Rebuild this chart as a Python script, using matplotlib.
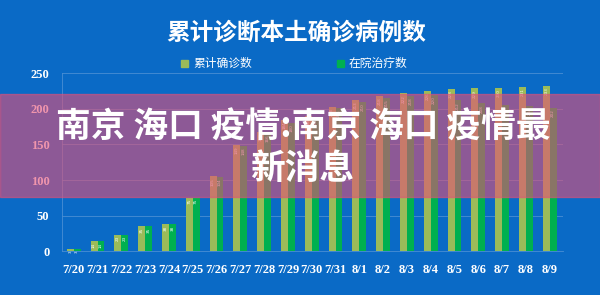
import numpy as np
import matplotlib.pyplot as plt
from matplotlib.patches import Rectangle

plt.rcParams['font.family'] = ['Noto Sans CJK SC', 'DejaVu Sans']

dates = ['7/20', '7/21', '7/22', '7/23', '7/24', '7/25', '7/26', '7/27', '7/28', '7/29', '7/30',
         '7/31', '8/1', '8/2', '8/3', '8/4', '8/5', '8/6', '8/7', '8/8', '8/9']
confirmed = [3, 14, 23, 35, 38, 75, 105, 149, 168, 184, 190, 203, 213, 218, 222, 226, 228, 229, 230, 231, 233]
in_hospital = [3, 14, 23, 35, 38, 75, 104, 148, 166, 180, 188, 201, 210, 215, 218, 220, 212, 208, 206, 204, 202]
yticks = [0, 50, 100, 150, 200, 250]

bg = '#0a6ac6'
light = '#9bbb59'
dark = '#00b050'

fig = plt.figure(figsize=(6, 2.95), dpi=100, facecolor=bg)
ax = fig.add_axes([0.103, 0.149, 0.835, 0.602])
ax.set_facecolor(bg)

x = np.arange(len(dates))
w = 0.29
ax.bar(x - w/2, confirmed, w, color=light, zorder=2)
ax.bar(x + w/2, in_hospital, w, color=dark, zorder=2)

# tiny value labels inside the bars
for xi, v in zip(x - w/2, confirmed):
    ax.text(xi, v - 2, str(v), rotation=90, ha='center', va='top', fontsize=3,
            color='white', family='DejaVu Sans', zorder=3)
for xi, v in zip(x + w/2, in_hospital):
    ax.text(xi, v - 2, str(v), rotation=90, ha='center', va='top', fontsize=3,
            color='white', family='DejaVu Sans', zorder=3)

ax.set_xlim(-0.5, 20.55)
ax.set_ylim(0, 250)
ax.set_yticks(yticks)
ax.set_xticks(x)
ax.set_xticklabels(dates)
ax.grid(axis='y', color='#4a8fd4', linewidth=0.6, zorder=0)
ax.tick_params(length=0, colors='white', pad=9)
for lab in ax.get_xticklabels() + ax.get_yticklabels():
    lab.set_family('Liberation Serif')
    lab.set_fontweight('bold')
    lab.set_fontsize(9)
for s in ['top', 'right']:
    ax.spines[s].set_visible(False)
for s in ['left', 'bottom']:
    ax.spines[s].set_color('#4a8fd4')
    ax.spines[s].set_linewidth(0.6)

fig.text(0.493, 0.888, '累计诊断本土确诊病例数', ha='center', va='center',
         fontsize=17, fontweight='bold', color='white')

# legend
fig.add_artist(Rectangle((181/600, 1 - 67/295), 7/600, 7/295, color=light, transform=fig.transFigure))
fig.text(193/600, 1 - 63/295, '累计确诊数', ha='left', va='center', fontsize=8.5, color='white')
fig.add_artist(Rectangle((337/600, 1 - 67/295), 7/600, 7/295, color=dark, transform=fig.transFigure))
fig.text(349/600, 1 - 63/295, '在院治疗数', ha='left', va='center', fontsize=8.5, color='white')

# overlay band and caption
fig.add_artist(Rectangle((0, 1 - 197/295), 1, 103/295, color='#e64f76', alpha=0.6,
                         transform=fig.transFigure, zorder=5))
fig.text(0.505, 1 - 127/295, '南京 海口 疫情:南京 海口 疫情最', ha='center', va='center',
         fontsize=25, fontweight='bold', color='white', zorder=6)
fig.text(0.503, 1 - 168/295, '新消息', ha='center', va='center',
         fontsize=25, fontweight='bold', color='white', zorder=6)

fig.savefig('out.png', dpi=100, facecolor=bg)
